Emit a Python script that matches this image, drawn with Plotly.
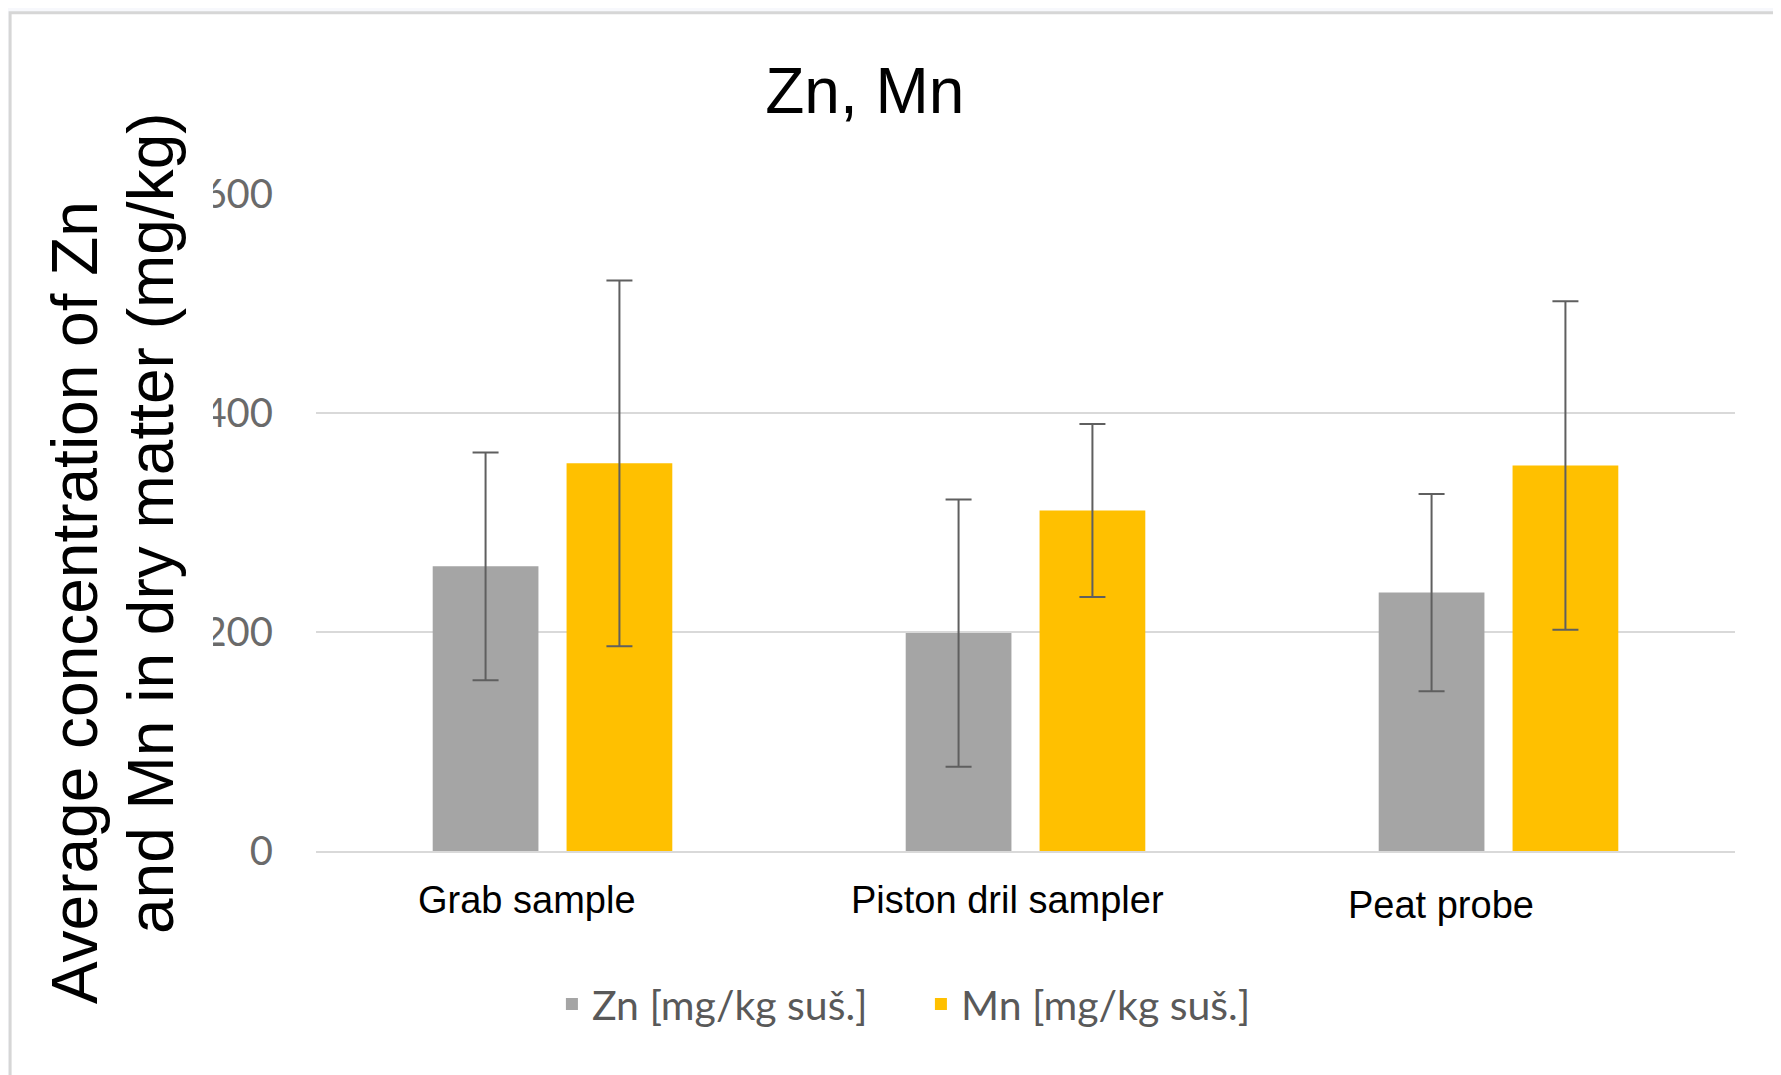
import plotly.graph_objects as go

# ---------------- data ----------------
categories = ["Grab sample", "Piston dril sampler", "Peat probe"]
zn_mean = [260, 199, 236]
zn_err = [104, 122, 90]
mn_mean = [354, 311, 352]
mn_err = [167, 79, 150]
y_ticks = [0, 200, 400, 600]
series_names = ["Zn [mg/kg suš.]", "Mn [mg/kg suš.]"]
title_text = "Zn, Mn"
ytitle_lines = ["Average concentration of Zn", "and Mn in dry matter (mg/kg)"]

# ---------------- layout geometry ----------------
# the page body has an 8px margin; geometry below is given in screen pixels
OFF = 8
WIDTH, HEIGHT = 1781 - OFF, 1075 - OFF
PLOT_L, PLOT_R, PLOT_T, PLOT_B = 316, 1735.5, 193.5, 851.5   # screen px
ML = PLOT_L - OFF
MT = PLOT_T - OFF
MR = WIDTH - (PLOT_R - OFF)
MB = HEIGHT - (PLOT_B - OFF)
PW = WIDTH - ML - MR
PH = HEIGHT - MT - MB


def X(px):
    return (px - OFF - ML) / PW


def Y(py):
    return 1 - (py - OFF - MT) / PH


ZN_COLOR = "#A5A5A5"
MN_COLOR = "#FFC000"
ERR_COLOR = "#5F5F5F"
GRID = "#D9D9D9"

fig = go.Figure()
fig.add_trace(go.Bar(
    name=series_names[0], x=categories, y=zn_mean,
    marker=dict(color=ZN_COLOR, line=dict(width=0)),
    error_y=dict(type="data", array=zn_err, color=ERR_COLOR, thickness=2, width=13),
))
fig.add_trace(go.Bar(
    name=series_names[1], x=categories, y=mn_mean,
    marker=dict(color=MN_COLOR, line=dict(width=0)),
    error_y=dict(type="data", array=mn_err, color=ERR_COLOR, thickness=2, width=13),
))

shapes = [
    # page background outside the chart frame
    dict(type="rect", xref="paper", yref="paper", layer="below",
         x0=X(0), x1=X(1790), y0=Y(1090), y1=Y(0),
         fillcolor="#F7F8FC", line=dict(width=0)),
    # chart frame
    dict(type="rect", xref="paper", yref="paper", layer="below",
         x0=X(10), x1=X(1800), y0=Y(1100), y1=Y(12),
         fillcolor="white", line=dict(color="#D6D6D6", width=3)),
    # white text box of the axis title that clips the tick labels
    dict(type="rect", xref="paper", yref="paper", layer="above",
         x0=X(12), x1=X(213), y0=Y(830), y1=Y(140),
         fillcolor="white", line=dict(width=0)),
]

annotations = []
# rotated y-axis title, two lines
for line, cx, cy in zip(ytitle_lines, [75, 151], [603, 523]):
    annotations.append(dict(
        text=line, xref="paper", yref="paper", x=X(cx), y=Y(cy),
        xanchor="center", yanchor="middle", textangle=-90, showarrow=False,
        font=dict(family="Liberation Sans, Arial", size=64, color="black"),
    ))
# category labels
label_shift = [-26, -18, -58]
label_y = [901, 901, 906]
for cat, dx, ly in zip(categories, label_shift, label_y):
    annotations.append(dict(
        text=cat, xref="x", yref="paper", x=cat, y=Y(ly), xshift=dx,
        xanchor="center", yanchor="middle", showarrow=False,
        font=dict(family="Liberation Sans, Arial", size=38, color="black"),
    ))

fig.update_layout(
    width=WIDTH, height=HEIGHT,
    margin=dict(l=ML, r=MR, t=MT, b=MB, pad=0),
    paper_bgcolor="white", plot_bgcolor="white",
    barmode="group", bargap=0.434, bargroupgap=0.21,
    title=dict(text=title_text, x=X(865), xref="paper", xanchor="center",
               y=1 - (91 - OFF) / HEIGHT, yref="container", yanchor="middle",
               font=dict(family="Liberation Sans, Arial", size=64, color="black")),
    showlegend=True,
    legend=dict(orientation="h", x=X(552), xanchor="left", y=Y(1005), yanchor="middle",
                font=dict(family="Lato, Open Sans", size=41, color="#595959"),
                bgcolor="rgba(0,0,0,0)", traceorder="normal", itemwidth=30,
                entrywidth=324, entrywidthmode="pixels"),
    shapes=shapes,
    annotations=annotations,
)
fig.update_xaxes(showticklabels=False, showgrid=False, ticks="", showline=True,
                 linecolor=GRID, linewidth=2, zeroline=False)
fig.update_yaxes(range=[0, 600], tickvals=y_ticks, ticktext=[str(v) for v in y_ticks],
                 showgrid=True, gridcolor=GRID, gridwidth=2, zeroline=False,
                 showline=False, ticks="outside", ticklen=34, tickcolor="rgba(0,0,0,0)",
                 tickfont=dict(family="Lato, Open Sans", size=40, color="#6A6A6A"))

fig.write_html("out.html")
